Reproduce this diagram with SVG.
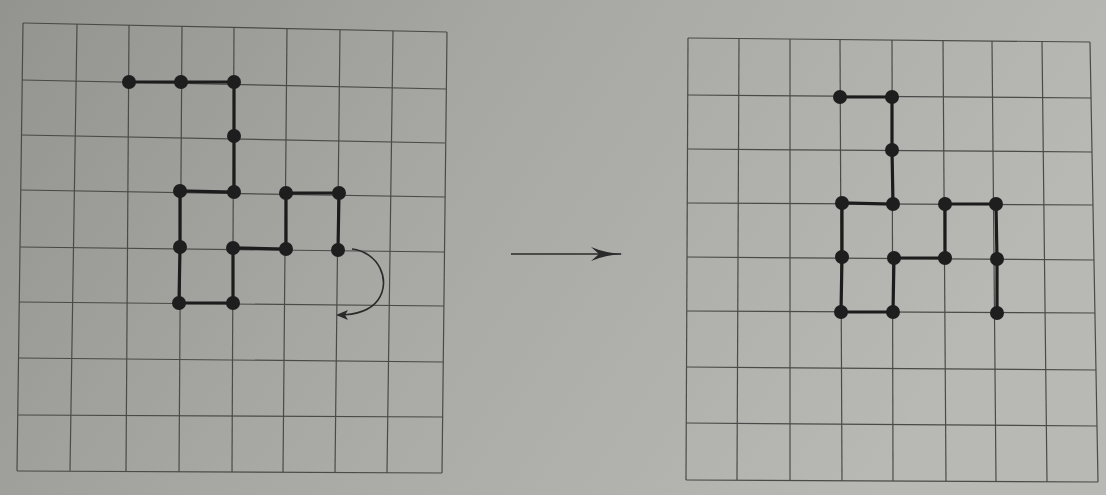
<svg xmlns="http://www.w3.org/2000/svg" width="1106" height="495" viewBox="0 0 1106 495">
<defs>
<linearGradient id="bg" x1="0" y1="0" x2="1" y2="0.3">
<stop offset="0" stop-color="#93948f"/>
<stop offset="0.45" stop-color="#a7a8a4"/>
<stop offset="1" stop-color="#b8b9b5"/>
</linearGradient>
<marker id="ah" viewBox="0 0 12 10" refX="10" refY="5" markerWidth="12" markerHeight="10" markerUnits="userSpaceOnUse" orient="auto">
<path d="M0,0 L12,5 L0,10 L3,5 Z" fill="#2a2a2a"/>
</marker>
<marker id="ahBig" viewBox="0 0 32 16" refX="30" refY="8" markerWidth="32" markerHeight="16" markerUnits="userSpaceOnUse" orient="auto">
<path d="M0,1 Q14,7 32,8 Q14,9 0,15 L8,8 Z" fill="#2a2a2a"/>
</marker>
<style>
.g{stroke:#4a4a48;stroke-width:1.2;fill:none}
.e{stroke:#1c1c1c;stroke-width:3.2;fill:none;stroke-linecap:round}
.n{fill:#1e1e1e}
.a{stroke:#2a2a2a;stroke-width:1.6;fill:none}
</style>
</defs>
<rect width="1106" height="495" fill="url(#bg)"/>

<g id="grid-left" class="g">
<line x1="23" y1="23" x2="17" y2="471"/>
<line x1="77" y1="24" x2="70" y2="471"/>
<line x1="129" y1="25" x2="126" y2="471"/>
<line x1="182" y1="26" x2="179" y2="472"/>
<line x1="234" y1="27" x2="232" y2="472"/>
<line x1="287" y1="28" x2="283" y2="472"/>
<line x1="340" y1="30" x2="335" y2="472"/>
<line x1="393" y1="31" x2="387" y2="473"/>
<line x1="447" y1="32" x2="442" y2="473"/>
<line x1="23" y1="23" x2="447" y2="32"/>
<line x1="22" y1="80" x2="446" y2="89"/>
<line x1="21" y1="135" x2="445" y2="143"/>
<line x1="21" y1="190" x2="445" y2="197"/>
<line x1="20" y1="247" x2="444" y2="252"/>
<line x1="19" y1="302" x2="444" y2="306"/>
<line x1="18" y1="358" x2="443" y2="362"/>
<line x1="18" y1="415" x2="443" y2="417"/>
<line x1="17" y1="471" x2="442" y2="473"/>
</g>

<g id="grid-right" class="g">
<line x1="688" y1="38" x2="686" y2="480"/>
<line x1="739" y1="38" x2="737" y2="480"/>
<line x1="790" y1="39" x2="790" y2="480"/>
<line x1="840" y1="39" x2="842" y2="481"/>
<line x1="892" y1="40" x2="893" y2="481"/>
<line x1="943" y1="40" x2="946" y2="481"/>
<line x1="992" y1="41" x2="996" y2="481"/>
<line x1="1042" y1="41" x2="1047" y2="482"/>
<line x1="1090" y1="42" x2="1098" y2="482"/>
<line x1="688" y1="38" x2="1090" y2="42"/>
<line x1="688" y1="95" x2="1091" y2="98"/>
<line x1="688" y1="149" x2="1092" y2="152"/>
<line x1="687" y1="203" x2="1093" y2="205"/>
<line x1="687" y1="257" x2="1094" y2="260"/>
<line x1="687" y1="311" x2="1095" y2="313"/>
<line x1="687" y1="367" x2="1096" y2="370"/>
<line x1="686" y1="423" x2="1097" y2="426"/>
<line x1="686" y1="480" x2="1098" y2="482"/>
</g>

<g id="connectors">
<polyline class="e" points="129,82 181,82 234,82 234,136 234,192 180,191 180,247 179,303 233,303 233,248 286,249 286,193 339,193 338,250"/>
<polyline class="e" points="840,97 892,97 892,150 893,204 842,203 842,257 841,312 893,312 894,258 945,258 945,204 996,204 997,259 997,313"/>
<path id="rotate-arrow" class="a" d="M352,249 C378,252 392,280 378,300 C370,311 356,315 338,315" marker-end="url(#ah)"/>
<line id="transform-arrow" class="a" x1="511" y1="254" x2="621" y2="254" marker-end="url(#ahBig)"/>
</g>

<g id="left-nodes">
<g id="L1"><circle class="n" cx="129" cy="82" r="7"/></g>
<g id="L2"><circle class="n" cx="181" cy="82" r="7"/></g>
<g id="L3"><circle class="n" cx="234" cy="82" r="7"/></g>
<g id="L4"><circle class="n" cx="234" cy="136" r="7"/></g>
<g id="L5"><circle class="n" cx="234" cy="192" r="7"/></g>
<g id="L6"><circle class="n" cx="180" cy="191" r="7"/></g>
<g id="L7"><circle class="n" cx="180" cy="247" r="7"/></g>
<g id="L8"><circle class="n" cx="179" cy="303" r="7"/></g>
<g id="L9"><circle class="n" cx="233" cy="303" r="7"/></g>
<g id="L10"><circle class="n" cx="233" cy="248" r="7"/></g>
<g id="L11"><circle class="n" cx="286" cy="249" r="7"/></g>
<g id="L12"><circle class="n" cx="286" cy="193" r="7"/></g>
<g id="L13"><circle class="n" cx="339" cy="193" r="7"/></g>
<g id="L14"><circle class="n" cx="338" cy="250" r="7"/></g>
</g>

<g id="right-nodes">
<g id="R1"><circle class="n" cx="840" cy="97" r="7"/></g>
<g id="R2"><circle class="n" cx="892" cy="97" r="7"/></g>
<g id="R3"><circle class="n" cx="892" cy="150" r="7"/></g>
<g id="R4"><circle class="n" cx="893" cy="204" r="7"/></g>
<g id="R5"><circle class="n" cx="842" cy="203" r="7"/></g>
<g id="R6"><circle class="n" cx="842" cy="257" r="7"/></g>
<g id="R7"><circle class="n" cx="841" cy="312" r="7"/></g>
<g id="R8"><circle class="n" cx="893" cy="312" r="7"/></g>
<g id="R9"><circle class="n" cx="894" cy="258" r="7"/></g>
<g id="R10"><circle class="n" cx="945" cy="258" r="7"/></g>
<g id="R11"><circle class="n" cx="945" cy="204" r="7"/></g>
<g id="R12"><circle class="n" cx="996" cy="204" r="7"/></g>
<g id="R13"><circle class="n" cx="997" cy="259" r="7"/></g>
<g id="R14"><circle class="n" cx="997" cy="313" r="7"/></g>
</g>
</svg>
